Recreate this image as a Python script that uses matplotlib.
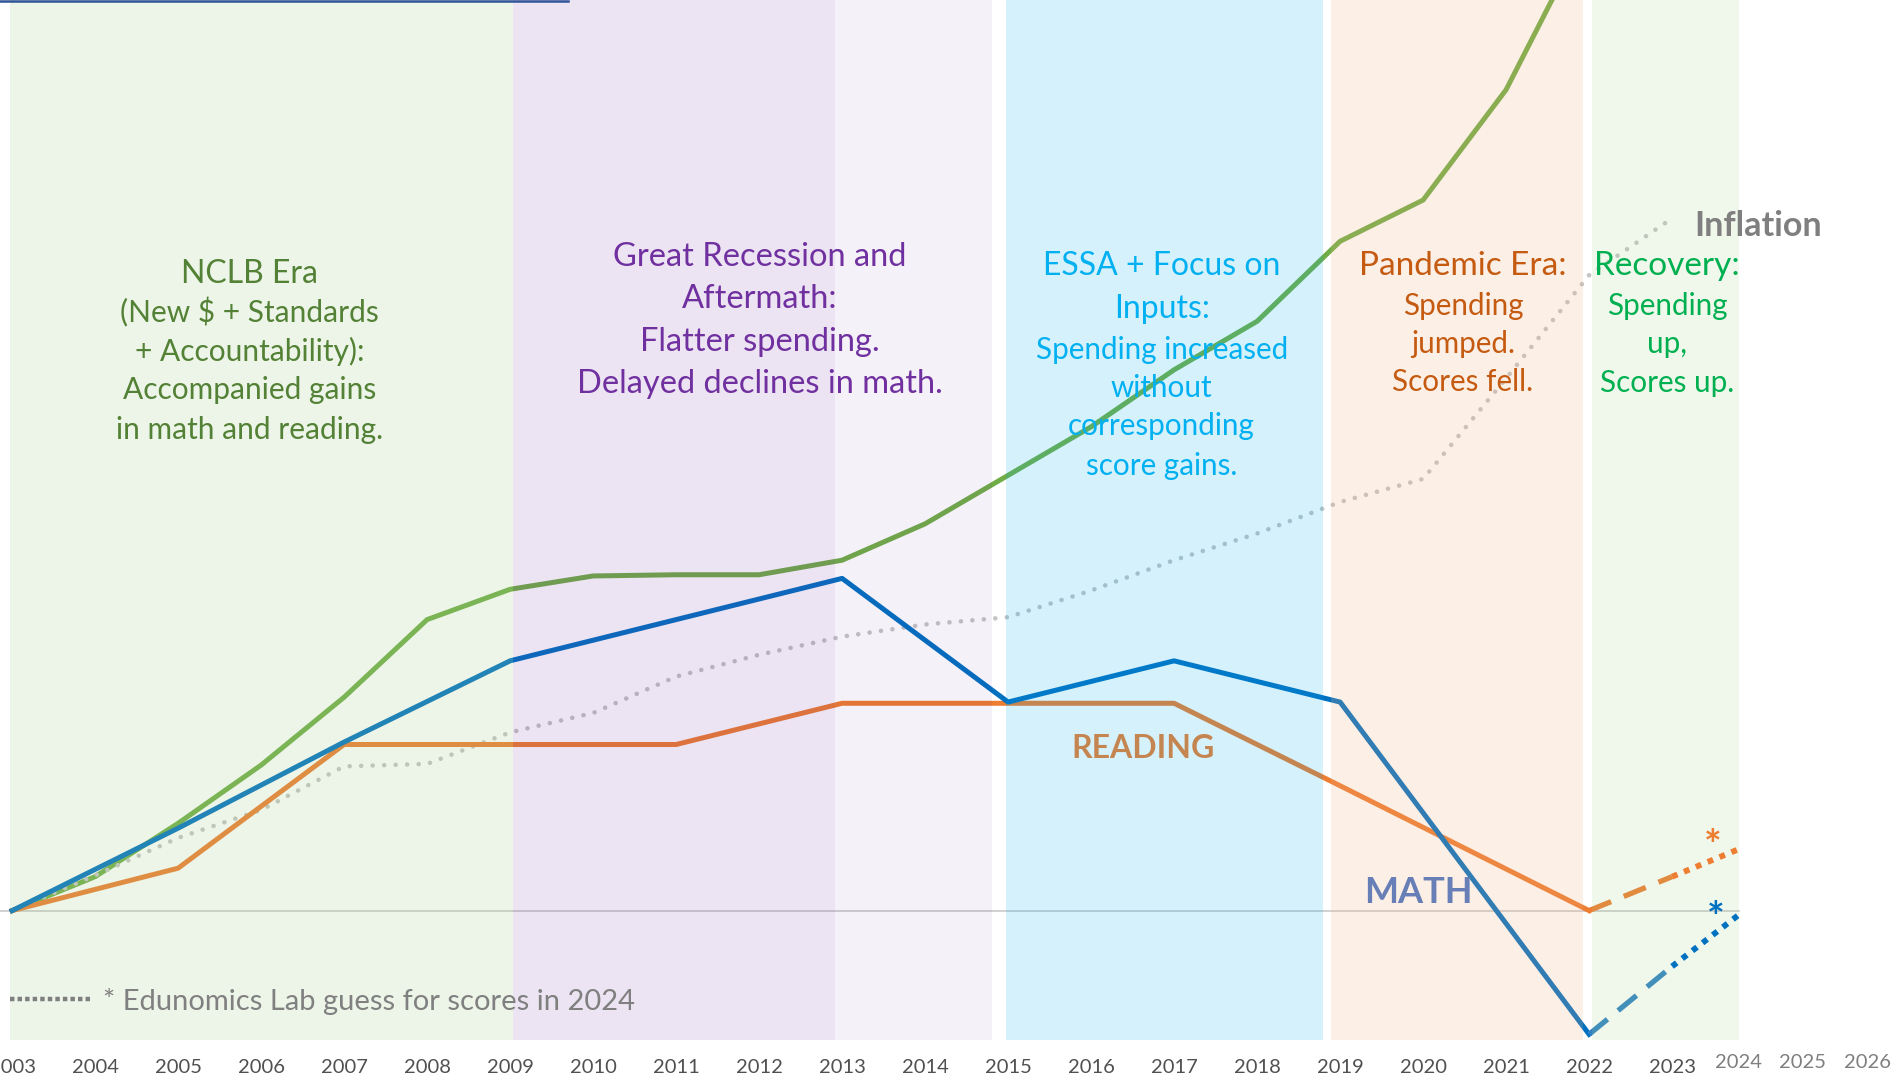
import matplotlib.pyplot as plt
from matplotlib.lines import Line2D

plt.rcParams['font.family'] = ['Lato', 'DejaVu Sans']

# index values, 2003 = 0
years = list(range(2003, 2024))
spending = [0, 2.8, 7.2, 12.0, 17.6, 24.0, 26.5, 27.6, 27.7, 27.7, 28.9,
            31.9, 35.9, 39.9, 44.6, 48.6, 55.2, 58.6, 67.7, 81.1]
inflation = [0, 2.9, 6.0, 8.3, 11.9, 12.1, 14.7, 16.3, 19.3, 21.1, 22.6,
             23.6, 24.2, 26.4, 28.9, 31.1, 33.7, 35.6, 43.9, 52.4, 57.1]
naep_years = [2003, 2005, 2007, 2009, 2011, 2013, 2015, 2017, 2019, 2022]
math_scores = [0, 6.8, 13.9, 20.6, 24.0, 27.4, 17.2, 20.6, 17.2, -10.2]
reading_scores = [0, 3.5, 13.7, 13.7, 13.7, 17.1, 17.1, 17.1, 10.3, 0]
guess_years = [2022, 2023, 2023.85]
math_guess = [-10.2, -4.6, -0.1]
reading_guess = [0, 2.8, 5.2]
extra_years = [2024, 2025, 2026]

fig = plt.figure(figsize=(19.01, 10.81), dpi=100)
ax = fig.add_axes([0, 41 / 1081, 1, 1040 / 1081])
ax.set_xlim(2002.854, 2025.758)
ax.set_ylim(-10.67, 75.1)

# era shading (drawn over the lines, semi transparent)
eras = [(2002.97, 2009.03, '#A9D18E', 0.2),
        (2009.03, 2012.92, '#7030A0', 0.13),
        (2012.92, 2014.80, '#7030A0', 0.065),
        (2014.98, 2018.80, '#00B0F0', 0.17),
        (2018.89, 2021.93, '#F4B183', 0.2),
        (2022.04, 2023.81, '#A9D18E', 0.17)]
for x0, x1, c, a in eras:
    ax.axvspan(x0, x1, color=c, alpha=a, lw=0, zorder=3)

ax.plot([2002.854, 2023.81], [0, 0], color='#C9C9C9', lw=1.2, zorder=1)

ax.plot(years[:len(spending)], spending, color='#70AD47', lw=3.6, zorder=2,
        solid_joinstyle='miter')
ax.plot(years, inflation, color='#C4C4C4', lw=3.3, ls=(0, (0.01, 2.5)),
        dash_capstyle='round', zorder=2)
ax.plot(naep_years, reading_scores, color='#ED7D31', lw=3.6, zorder=2)
ax.plot(naep_years, math_scores, color='#0070C0', lw=3.6, zorder=2)

ax.plot(guess_years[:2], reading_guess[:2], color='#ED7D31', lw=3.8,
        ls=(0, (4.5, 2.6)), zorder=2)
ax.plot(guess_years[1:], reading_guess[1:], color='#ED7D31', lw=4.2,
        ls=(0, (1, 1.2)), zorder=4)
ax.plot(guess_years[:2], math_guess[:2], color='#2E82C4', lw=3.8,
        ls=(0, (4.5, 2.6)), zorder=2)
ax.plot(guess_years[1:], math_guess[1:], color='#0070C0', lw=4.2,
        ls=(0, (1, 1.2)), zorder=4)

ax.text(2023.49, 5.2, '*', color='#ED7D31', fontsize=30, fontweight='bold',
        ha='center', va='center', zorder=5)
ax.text(2023.53, -0.8, '*', color='#0070C0', fontsize=30, fontweight='bold',
        ha='center', va='center', zorder=5)

def block(x, lines, color):
    for s, y, size in lines:
        ax.text(x, y, s, color=color, fontsize=size, ha='center', va='center',
                zorder=5)

block(2005.86, [('NCLB Era', 52.5, 23), ('(New $ + Standards', 49.3, 21.5),
                ('+ Accountability):', 46.1, 21.5), ('Accompanied gains', 42.9, 21.5),
                ('in math and reading.', 39.6, 21.5)], '#538135')
block(2012.01, [('Great Recession and', 53.9, 23.5), ('Aftermath:', 50.4, 23.5),
                ('Flatter spending.', 46.9, 23.5),
                ('Delayed declines in math.', 43.4, 23.5)], '#7030A0')
block(2016.85, [('ESSA + Focus on', 53.2, 23), ('Inputs:', 49.6, 23),
                ('Spending increased', 46.2, 21.3), ('without', 43.1, 21.3),
                ('corresponding', 40.0, 21.3), ('score gains.', 36.7, 21.3)], '#00B0F0')
block(2020.48, [('Pandemic Era:', 53.2, 24), ('Spending', 49.9, 21.3),
                ('jumped.', 46.7, 21.3), ('Scores fell.', 43.6, 21.3)], '#C55A11')
block(2022.94, [('Recovery:', 53.2, 24), ('Spending', 49.9, 21.3),
                ('up,', 46.7, 21.3), ('Scores up.', 43.5, 21.3)], '#00B050')

ax.text(2023.27, 56.5, 'Inflation', color='#7F7F7F', fontsize=24.5,
        fontweight='bold', ha='left', va='center', zorder=5)
ax.text(2016.63, 13.4, 'READING', color='#ED7D31', fontsize=23,
        fontweight='bold', ha='center', va='center', zorder=2)
ax.text(2019.94, 1.5, 'MATH', color='#4472C4', fontsize=26,
        fontweight='bold', ha='center', va='center', zorder=2)

# guess legend
ax.plot([2002.97, 2003.95], [-7.3, -7.3], color='#7F7F7F', lw=3.2,
        ls=(0, (1, 0.7)), zorder=5)
ax.text(2004.10, -7.5, '* Edunomics Lab guess for scores in 2024',
        color='#808080', fontsize=21, ha='left', va='center', zorder=5)

ax.set_yticks([])
ax.set_xticks(years)
ax.set_xticklabels([str(y) for y in years])
ax.tick_params(axis='x', length=0, pad=13.5, labelsize=14.5, labelcolor='#505050')
for s in ax.spines.values():
    s.set_visible(False)

ax2 = ax.twiny()
ax2.set_xlim(1996.94, 2026.526)
ax2.set_xticks(extra_years)
ax2.xaxis.set_ticks_position('bottom')
ax2.xaxis.set_label_position('bottom')
ax2.tick_params(axis='x', length=0, pad=10, labelsize=14.5, labelcolor='#7F7F7F')
for s in ax2.spines.values():
    s.set_visible(False)

fig.add_artist(Line2D([0, 568 / 1901], [1 - 1 / 1081, 1 - 1 / 1081],
                      color='#2F5597', lw=1.8, transform=fig.transFigure))

fig.savefig('out.png', dpi=100)
